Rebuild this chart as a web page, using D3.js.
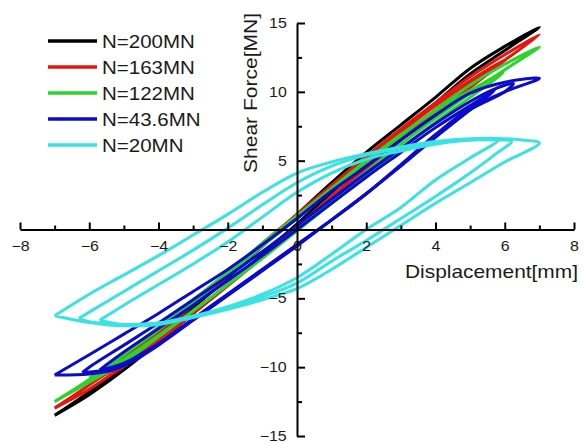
<!DOCTYPE html>
<html>
<head>
<meta charset="utf-8">
<script src="https://cdn.jsdelivr.net/npm/d3@7"></script>
<style>
  body { margin: 0; background: #fff; }
  svg { display: block; }
  text { font-family: "Liberation Sans", Arial, sans-serif; fill: #1a1a1a; }
</style>
</head>
<body>
<svg id="chart" width="585" height="444"></svg>
<script>
// hysteresis loops, [displacement mm, shear force MN]

var n200Loop = [[-7,-13.5],[-6,-11.8],[-5,-9.9],[-4,-7.9],[-3,-5.7],[-2,-3.5],[-1,-1.2],[0,1.1],[1,3.4],[2,5.6],[3,7.6],[4,9.6],[5,11.7],[6,13.3],[7,14.7],
  [6,13.0],[5,11.3],[4,9.2],[3,7.1],[2,4.9],[1,2.7],[0,0.4],[-1,-1.8],[-2,-4.0],[-3,-6.1],[-4,-8.2],[-5,-10.2],[-6,-12.0],[-7,-13.5]];

var n163LoopA = [[-6,-11.2],[-5,-9.3],[-4,-7.4],[-3,-5.3],[-2,-3.2],[-1,-1.0],[0,1.1],[1,3.2],[2,5.2],[3,7.1],[4,9.0],[5,10.8],[6,12.3],
  [5,10.3],[4,8.4],[3,6.5],[2,4.4],[1,2.3],[0,0.1],[-1,-2.0],[-2,-4.0],[-3,-6.0],[-4,-7.9],[-5,-9.7],[-6,-11.2]];
var n163LoopB = [[-7,-12.97],[-6,-11.3],[-5,-9.5],[-4,-7.6],[-3,-5.5],[-2,-3.4],[-1,-1.2],[0,1.0],[1,3.2],[2,5.3],[3,7.3],[4,9.2],[5,11.1],[6,12.7],[7,14.15],
  [6,12.3],[5,10.6],[4,8.7],[3,6.7],[2,4.6],[1,2.4],[0,0.2],[-1,-2.0],[-2,-4.1],[-3,-6.1],[-4,-8.1],[-5,-9.9],[-6,-11.6],[-7,-12.97]];

var n122LoopA = [[-6,-10.8],[-5,-9.0],[-4,-7.1],[-3,-5.1],[-2,-3.1],[-1,-1.0],[0,1.0],[1,3.0],[2,5.0],[3,6.9],[4,8.6],[5,10.1],[5.95,11.39],
  [5,9.6],[4,7.8],[3,5.9],[2,3.9],[1,1.9],[0,-0.1],[-1,-2.1],[-2,-4.0],[-3,-5.9],[-4,-7.7],[-5,-9.4],[-6,-10.8]];
var n122LoopB = [[-7,-12.5],[-6,-10.9],[-5,-9.1],[-4,-7.3],[-3,-5.3],[-2,-3.3],[-1,-1.2],[0,0.8],[1,2.9],[2,4.9],[3,6.8],[4,8.7],[5,10.5],[6,12.0],[7,13.25],
  [6,11.6],[5,9.9],[4,8.1],[3,6.2],[2,4.2],[1,2.1],[0,0.0],[-1,-2.0],[-2,-4.0],[-3,-5.9],[-4,-7.8],[-5,-9.6],[-6,-11.1],[-7,-12.5]];

var n43LoopA = [[-5.7,-10.2],[-5,-8.9],[-4,-7.2],[-3,-5.5],[-2,-3.7],[-1,-1.9],[0,0.0],[1,1.9],[2,3.8],[3,5.6],[4,7.4],[5,9.0],[5.7,10.1],
  [5,8.7],[4,6.7],[3,4.6],[2,2.6],[1,0.7],[0,-1.1],[-1,-2.9],[-2,-4.7],[-3,-6.5],[-4,-8.3],[-5,-9.7],[-5.7,-10.2]];
var n43LoopB = [[-6.2,-10.4],[-6,-10.0],[-5,-8.4],[-4,-6.8],[-3,-5.1],[-2,-3.4],[-1,-1.6],[0,0.3],[1,2.2],[2,4.1],[3,5.9],[4,7.7],[5,9.3],[5.7,10.2],[6.25,10.6],
  [6,10.0],[5,8.7],[4,6.8],[3,4.7],[2,2.6],[1,0.7],[0,-1.1],[-1,-2.9],[-2,-4.7],[-3,-6.5],[-4,-8.3],[-4.7,-9.4],[-5.3,-10.1],[-6.2,-10.4]];
var n43LoopC = [[-7,-10.57],[-6,-9.1],[-5,-7.6],[-4,-6.1],[-3,-4.5],[-2,-2.9],[-1,-1.1],[0,0.8],[1,2.8],[2,4.6],[3,6.5],[4,8.3],[5,9.9],[6,10.7],[7,10.98],
  [6,10.0],[5,8.8],[4,6.9],[3,4.7],[2,2.6],[1,0.7],[0,-1.2],[-1,-3.0],[-2,-4.8],[-3,-6.6],[-4,-8.4],[-4.7,-9.5],[-5.3,-10.2],[-6,-10.5],[-7,-10.57]];

var n20LoopA = [[-5.7,-6.6],[-5,-5.5],[-4,-4.0],[-3,-2.5],[-2,-0.9],[-1,0.9],[0,2.7],[1,4.1],[2,5.1],[3,5.7],[4,6.2],[5,6.5],[5.8,6.5],
  [5,5.2],[4,3.6],[3,1.6],[2,0.0],[1,-1.8],[0,-3.5],[-1,-4.7],[-2,-5.6],[-3,-6.3],[-4,-6.8],[-5,-6.9],[-5.7,-6.6]];
var n20LoopB = [[-6.3,-6.45],[-6,-6.0],[-5,-4.5],[-4,-3.0],[-3,-1.5],[-2,0.1],[-1,1.8],[0,3.4],[1,4.6],[2,5.4],[3,5.9],[4,6.3],[5,6.5],[5.7,6.5],[6.2,6.4],
  [5.8,5.6],[5,4.1],[4,2.4],[3,0.8],[2,-0.8],[1,-2.3],[0,-3.9],[-1,-4.9],[-2,-5.7],[-3,-6.3],[-4,-6.8],[-5,-6.9],[-6,-6.7],[-6.3,-6.45]];
var n20LoopC = [[-7,-6.26],[-6,-4.7],[-5,-3.3],[-4,-1.9],[-3,-0.4],[-2,1.1],[-1,2.7],[0,4.1],[1,4.9],[2,5.5],[3,6.0],[4,6.4],[5,6.6],[6,6.6],[6.5,6.5],[7,6.28],
  [6,4.9],[5,3.4],[4,1.9],[3,0.3],[2,-1.3],[1,-2.9],[0,-4.3],[-1,-5.1],[-2,-5.8],[-3,-6.4],[-4,-6.9],[-5,-7.0],[-6,-6.75],[-7,-6.26]];

var seriesNames = ['N=200MN', 'N=163MN', 'N=122MN', 'N=43.6MN', 'N=20MN'];
var seriesColors = ['#000000', '#e8140e', '#2ad42a', '#0b0bcc', '#3ae2e4'];
var seriesLoops = [
  [n200Loop],
  [n163LoopA, n163LoopB],
  [n122LoopA, n122LoopB],
  [n43LoopA, n43LoopB, n43LoopC],
  [n20LoopA, n20LoopB, n20LoopC]
];

var xMajor = [-8, -6, -4, -2, 0, 2, 4, 6, 8];
var xMinor = [-7, -5, -3, -1, 1, 3, 5, 7];
var yMajor = [-15, -10, -5, 5, 10, 15];
var yMinor = [-12.5, -7.5, -2.5, 0, 2.5, 7.5, 12.5];

var svg = d3.select('#chart');

var x = d3.scaleLinear().domain([-8, 8]).range([20, 574]);
var y = d3.scaleLinear().domain([-15, 15]).range([436, 23]);

var stretch = 'scale(1.14,1)';

// data first, axes drawn on top
var line = d3.line()
  .x(function (d) { return x(d[0]); })
  .y(function (d) { return y(d[1]); })
  .curve(d3.curveCatmullRom.alpha(0.5));

var plot = svg.append('g').attr('class', 'loops');
seriesLoops.forEach(function (loops, i) {
  plot.append('g')
    .selectAll('path')
    .data(loops)
    .enter()
    .append('path')
    .attr('d', line)
    .attr('fill', 'none')
    .attr('stroke', seriesColors[i])
    .attr('stroke-width', 3)
    .attr('stroke-linejoin', 'round');
});

// x axis through y = 0, ticks pointing up, labels below
svg.append('g')
  .attr('transform', 'translate(0,' + y(0) + ')')
  .call(d3.axisBottom(x).tickValues(xMajor).tickSizeInner(-7).tickSizeOuter(0).tickPadding(12)
    .tickFormat(d3.format('d')));
svg.append('g')
  .attr('transform', 'translate(0,' + y(0) + ')')
  .call(d3.axisBottom(x).tickValues(xMinor).tickSizeInner(-4).tickSizeOuter(0).tickFormat(''))
  .select('.domain').remove();

// y axis through x = 0, ticks pointing right, labels left
svg.append('g')
  .attr('transform', 'translate(' + x(0) + ',0)')
  .call(d3.axisLeft(y).tickValues(yMajor).tickSizeInner(-8).tickSizeOuter(0).tickPadding(9)
    .tickFormat(d3.format('d')));
svg.append('g')
  .attr('transform', 'translate(' + x(0) + ',0)')
  .call(d3.axisLeft(y).tickValues(yMinor).tickSizeInner(-5).tickSizeOuter(0).tickFormat(''))
  .select('.domain').remove();

svg.selectAll('.domain').attr('stroke', '#000').attr('stroke-width', 2);
svg.selectAll('.tick line').attr('stroke', '#000').attr('stroke-width', 2);
svg.selectAll('.tick text')
  .attr('font-size', 14)
  .attr('font-family', '"Liberation Sans", Arial, sans-serif')
  .attr('fill', '#1a1a1a')
  .attr('transform', stretch);

// axis titles
svg.append('text')
  .attr('transform', 'translate(257,93) rotate(-90)')
  .attr('text-anchor', 'middle')
  .attr('font-size', 18)
  .attr('textLength', 160)
  .attr('lengthAdjust', 'spacingAndGlyphs')
  .text('Shear Force[MN]');

svg.append('text')
  .attr('x', 405)
  .attr('y', 278)
  .attr('font-size', 19)
  .attr('textLength', 173)
  .attr('lengthAdjust', 'spacingAndGlyphs')
  .text('Displacement[mm]');

// legend
var legend = svg.append('g').attr('class', 'legend');
var rows = legend.selectAll('g')
  .data(seriesNames)
  .enter()
  .append('g')
  .attr('transform', function (d, i) { return 'translate(48,' + (41 + i * 26) + ')'; });

rows.append('line')
  .attr('x1', 0).attr('x2', 49)
  .attr('y1', 0).attr('y2', 0)
  .attr('stroke', function (d, i) { return seriesColors[i]; })
  .attr('stroke-width', 3.5);

rows.append('text')
  .attr('transform', 'translate(54,6.5) ' + stretch)
  .attr('font-size', 18)
  .text(function (d) { return d; });
</script>
</body>
</html>
